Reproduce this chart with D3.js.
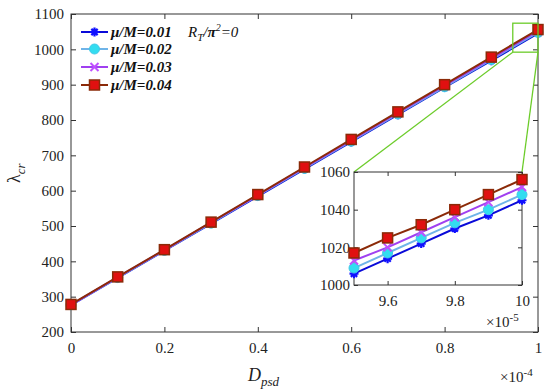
<!DOCTYPE html>
<html><head><meta charset="utf-8">
<script src="https://cdn.jsdelivr.net/npm/d3@7"></script>
<style>body{margin:0;background:#fff}svg{display:block}svg text{font-family:'Liberation Serif','Times New Roman','DejaVu Serif',serif !important}</style>
</head><body><svg id="c" width="550" height="391"></svg>
<script>
const xMain = [0,0.1,0.2,0.3,0.4,0.5,0.6,0.7,0.8,0.9,1.0];
const s001 = [276,353,430,507,584,661,738,815,892,968,1045];
const s002 = [277,354,431,508,586,663,740,817,894,971,1048];
const s003 = [277,355,432,510,587,665,742,820,897,974,1052];
const s004 = [278,356,433,511,589,667,745,823,900,978,1056];
const xInset = [9.5,9.6,9.7,9.8,9.9,10.0];
const i001 = [1006,1014,1022,1030,1037,1045];
const i002 = [1009,1017,1025,1033,1040,1048];
const i003 = [1013,1020,1028,1036,1044,1052];
const i004 = [1017,1025,1032,1040,1048,1056];
const labels = ["μ/M=0.01","μ/M=0.02","μ/M=0.03","μ/M=0.04"];
const xTicks = [0,0.2,0.4,0.6,0.8,1];
const yTicks = [200,300,400,500,600,700,800,900,1000,1100];
const ixTicks = [9.6,9.8,10];
const iyTicks = [1000,1020,1040,1060];

const styles = [
  {line:"#0a0ad8", fill:"#1010ff", stroke:"#0000cc", marker:"star"},
  {line:"#6fb4e8", fill:"#33ddf0", stroke:"#44c8e8", marker:"circle"},
  {line:"#a040f0", fill:"#c050ff", stroke:"#b040f0", marker:"x"},
  {line:"#8b2a08", fill:"#e01010", stroke:"#8b2a08", marker:"square"}
];
const mainSeries = [s001,s002,s003,s004];
const insetSeries = [i001,i002,i003,i004];
const FONT = "'Liberation Serif','Times New Roman','DejaVu Serif',serif";

const svg = d3.select("#c");
const L=71,R=538,T=14,B=332;
const x = d3.scaleLinear().domain([0,1]).range([L,R]);
const y = d3.scaleLinear().domain([200,1100]).range([B,T]);

function drawMarker(g, type, cx, cy, st, sz){
  if(type==="square"){
    g.append("rect").attr("x",cx-sz/2).attr("y",cy-sz/2).attr("width",sz).attr("height",sz)
     .attr("fill",st.fill).attr("stroke",st.stroke).attr("stroke-width",1.5);
  } else if(type==="circle"){
    g.append("circle").attr("cx",cx).attr("cy",cy).attr("r",sz/2)
     .attr("fill",st.fill).attr("stroke",st.stroke).attr("stroke-width",1);
  } else if(type==="x"){
    const r=sz/2-0.5;
    g.append("path").attr("d",`M${cx-r},${cy-r}L${cx+r},${cy+r}M${cx-r},${cy+r}L${cx+r},${cy-r}`)
     .attr("stroke",st.fill).attr("stroke-width",2);
  } else {
    const r=sz/2;
    let d=`M${cx-r},${cy}L${cx+r},${cy}M${cx},${cy-r}L${cx},${cy+r}M${cx-r*0.7},${cy-r*0.7}L${cx+r*0.7},${cy+r*0.7}M${cx-r*0.7},${cy+r*0.7}L${cx+r*0.7},${cy-r*0.7}`;
    g.append("path").attr("d",d).attr("stroke",st.fill).attr("stroke-width",2.2);
  }
}
function styleAxis(a){
  a.attr("font-family",FONT).attr("font-size",15);
  a.select(".domain").remove();
  a.selectAll("line").attr("stroke","#333");
  a.selectAll("text").attr("fill","#222").style("font-family",FONT);
}

svg.append("rect").attr("x",L).attr("y",T).attr("width",R-L).attr("height",B-T).attr("fill","#fff").attr("stroke","#333").attr("stroke-width",1);

const fmt = d3.format("");
const axB = svg.append("g").attr("transform",`translate(0,${B})`).call(d3.axisBottom(x).tickValues(xTicks).tickSize(-5).tickPadding(10).tickFormat(d=>fmt(d)));
const axT = svg.append("g").attr("transform",`translate(0,${T})`).call(d3.axisTop(x).tickValues(xTicks).tickSize(-5).tickFormat(""));
const axL = svg.append("g").attr("transform",`translate(${L},0)`).call(d3.axisLeft(y).tickValues(yTicks).tickSize(-5).tickPadding(7).tickFormat(d3.format("d")));
const axR = svg.append("g").attr("transform",`translate(${R},0)`).call(d3.axisRight(y).tickValues(yTicks).tickSize(-5).tickFormat(""));
[axB,axT,axL,axR].forEach(styleAxis);

const line = d3.line().x((d,i)=>x(xMain[i])).y(d=>y(d));
mainSeries.forEach((s,k)=>{
  svg.append("path").datum(s).attr("d",line).attr("fill","none").attr("stroke",styles[k].line).attr("stroke-width",2);
});
mainSeries.forEach((s,k)=>{
  const g=svg.append("g");
  s.forEach((v,i)=>drawMarker(g,styles[k].marker,x(xMain[i]),y(v),styles[k],k===3?10:(k===1?10:9)));
});

const gx0=x(0.946), gx1=x(1.0), gy0=y(1074), gy1=y(992);
svg.append("rect").attr("x",gx0).attr("y",gy0).attr("width",gx1-gx0).attr("height",gy1-gy0).attr("fill","none").attr("stroke","#6ccc2a").attr("stroke-width",1.3);

const IL=354,IR=522,IT=172,IB=285;
svg.append("line").attr("x1",gx0).attr("y1",gy1).attr("x2",IL).attr("y2",IT).attr("stroke","#6ccc2a").attr("stroke-width",1.3);
svg.append("line").attr("x1",gx1).attr("y1",gy1).attr("x2",IR).attr("y2",IT).attr("stroke","#6ccc2a").attr("stroke-width",1.3);
const ix = d3.scaleLinear().domain([9.5,10]).range([IL,IR]);
const iy = d3.scaleLinear().domain([1000,1060]).range([IB,IT]);
svg.append("rect").attr("x",IL).attr("y",IT).attr("width",IR-IL).attr("height",IB-IT).attr("fill","#fff").attr("stroke","#333").attr("stroke-width",1);
const iaB = svg.append("g").attr("transform",`translate(0,${IB})`).call(d3.axisBottom(ix).tickValues(ixTicks).tickSize(-4).tickPadding(10).tickFormat(fmt));
const iaT = svg.append("g").attr("transform",`translate(0,${IT})`).call(d3.axisTop(ix).tickValues(ixTicks).tickSize(-4).tickFormat(""));
const iaL = svg.append("g").attr("transform",`translate(${IL},0)`).call(d3.axisLeft(iy).tickValues(iyTicks).tickSize(-4).tickPadding(4).tickFormat(d3.format("d")));
const iaR = svg.append("g").attr("transform",`translate(${IR},0)`).call(d3.axisRight(iy).tickValues(iyTicks).tickSize(-4).tickFormat(""));
[iaB,iaT,iaL,iaR].forEach(styleAxis);
const iline = d3.line().x((d,i)=>ix(xInset[i])).y(d=>iy(d));
insetSeries.forEach((s,k)=>{
  svg.append("path").datum(s).attr("d",iline).attr("fill","none").attr("stroke",styles[k].line).attr("stroke-width",2);
});
insetSeries.forEach((s,k)=>{
  const g=svg.append("g");
  s.forEach((v,i)=>drawMarker(g,styles[k].marker,ix(xInset[i]),iy(v),styles[k],k===3?10:(k===1?10:9)));
});

function expo(xp,yp,exp){
  const t=svg.append("text").attr("x",xp).attr("y",yp).attr("font-size",15).attr("fill","#222");
  t.append("tspan").text("×10");
  t.append("tspan").attr("dy",-6).attr("font-size",11).text(exp);
}
expo(486,327,"-5");
expo(500,382,"-4");

const xl=svg.append("text").attr("x",248).attr("y",381).attr("font-size",18).attr("font-style","italic").attr("fill","#222");
xl.append("tspan").text("D");
xl.append("tspan").attr("dy",5).attr("font-size",13).text("psd");
const yl=svg.append("text").attr("transform","translate(20,183) rotate(-90)").attr("font-size",18).attr("fill","#222");
yl.append("tspan").text("λ");
yl.append("tspan").attr("dy",5).attr("font-size",13).attr("font-style","italic").text("cr");

const ly=[32,49,67,85];
labels.forEach((lab,k)=>{
  svg.append("line").attr("x1",81).attr("x2",108).attr("y1",ly[k]).attr("y2",ly[k]).attr("stroke",styles[k].line).attr("stroke-width",2);
  drawMarker(svg.append("g"),styles[k].marker,94.5,ly[k],styles[k],k===3?10:(k===1?10:9));
  svg.append("text").attr("x",111).attr("y",ly[k]+5).attr("font-size",15).attr("font-style","italic").attr("font-weight","bold").attr("fill","#111").text(lab);
});
const rt=svg.append("text").attr("x",188).attr("y",37).attr("font-size",15).attr("font-style","italic").attr("fill","#111");
rt.append("tspan").text("R");
rt.append("tspan").attr("dy",4).attr("font-size",11).text("T");
rt.append("tspan").attr("dy",-4).text("/");
rt.append("tspan").attr("font-weight","bold").text("π");
rt.append("tspan").attr("dy",-6).attr("font-size",10).text("2");
rt.append("tspan").attr("dy",6).text("=0");
</script></body></html>
